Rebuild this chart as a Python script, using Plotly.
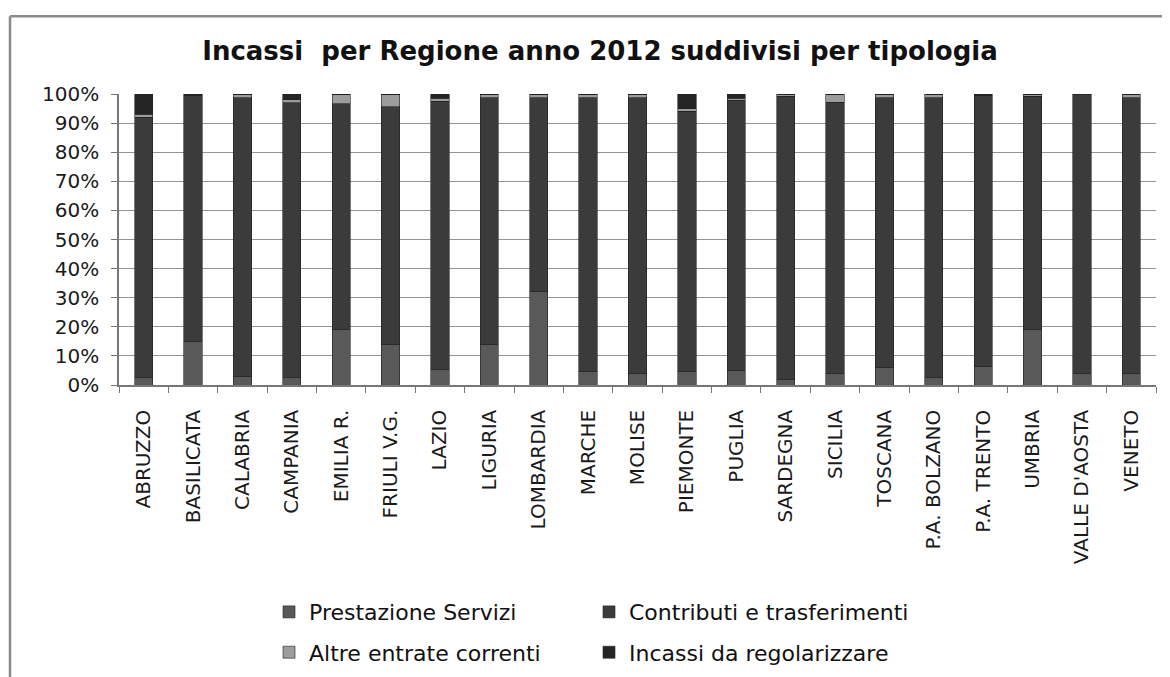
import plotly.graph_objects as go

regioni = ["ABRUZZO", "BASILICATA", "CALABRIA", "CAMPANIA", "EMILIA R.", "FRIULI V.G.",
           "LAZIO", "LIGURIA", "LOMBARDIA", "MARCHE", "MOLISE", "PIEMONTE", "PUGLIA",
           "SARDEGNA", "SICILIA", "TOSCANA", "P.A. BOLZANO", "P.A. TRENTO", "UMBRIA",
           "VALLE D'AOSTA", "VENETO"]

prestazione_servizi = [2.5, 15, 3, 2.5, 19, 14, 5.5, 14, 32, 4.5, 4, 4.5, 5, 2, 4, 6, 2.5, 6.5, 19, 4, 4]
contributi_trasferimenti = [89.5, 84.5, 95.7, 94.5, 77.7, 81.7, 92, 84.7, 66.7, 94.2, 94.7, 89.5, 92.8,
                            97.3, 93.2, 92.7, 96.2, 93, 80.3, 95.7, 94.7]
altre_entrate = [1, 0.3, 1, 1, 3, 4, 1, 1, 1, 1, 1, 1, 0.7, 0.5, 2.5, 1, 1, 0.3, 0.5, 0.2, 1]
incassi_regolarizzare = [7, 0.2, 0.3, 2, 0.3, 0.3, 1.5, 0.3, 0.3, 0.3, 0.3, 5, 1.5, 0.2, 0.3, 0.3,
                         0.3, 0.2, 0.2, 0.1, 0.3]

y_ticks = [0, 10, 20, 30, 40, 50, 60, 70, 80, 90, 100]
y_labels = [f"{v}%" for v in y_ticks]

series = [
    ("Prestazione Servizi", prestazione_servizi, "#595959", "legend"),
    ("Contributi e trasferimenti", contributi_trasferimenti, "#3b3b3b", "legend2"),
    ("Altre entrate correnti", altre_entrate, "#9c9c9c", "legend3"),
    ("Incassi da regolarizzare", incassi_regolarizzare, "#252525", "legend4"),
]

fig = go.Figure()
for name, vals, col, leg in series:
    fig.add_trace(go.Bar(
        x=regioni, y=vals, name=name, showlegend=True,
        marker=dict(color=col, line=dict(color="#222222", width=0.6)),
        legend=leg,
    ))

# the page body adds an 8px offset; figure coordinates below are page coordinates minus 8
W, H = 1170, 677
ml, mr, mt, mb = 111, 22, 86, 295
pw, ph = W - ml - mr, H - mt - mb

def px_x(px):
    return (px - ml) / pw

def px_y(py):
    return (H - mb - py) / ph

legend_font = dict(size=22, family="DejaVu Sans", color="#111111")

def legend_at(lx, ly):
    return dict(orientation="h", x=px_x(lx), xanchor="left", y=px_y(ly), yanchor="middle",
                font=legend_font, bgcolor="rgba(0,0,0,0)", visible=True)

fig.update_layout(
    width=W, height=H,
    margin=dict(l=ml, r=mr, t=mt, b=mb),
    paper_bgcolor="white", plot_bgcolor="white",
    barmode="stack", bargap=0.63,
    showlegend=True,
    font=dict(family="DejaVu Sans", color="#1a1a1a"),
    title=dict(text="<b>Incassi  per Regione anno 2012 suddivisi per tipologia</b>",
               x=592 / W, xanchor="center", y=1 - 43 / H, yanchor="middle",
               font=dict(size=26, family="DejaVu Sans", color="#111111")),
    xaxis=dict(
        type="category", tickangle=-90, tickson="boundaries",
        ticks="outside", ticklen=6, tickcolor="#777777",
        showline=True, linecolor="#777777", linewidth=1.5,
        showgrid=False, ticklabelstandoff=15,
        tickfont=dict(size=20, family="DejaVu Sans", color="#1a1a1a"),
    ),
    yaxis=dict(
        range=[0, 100], tickvals=y_ticks, ticktext=y_labels,
        ticks="outside", ticklen=6, tickcolor="#777777",
        showline=True, linecolor="#777777", linewidth=1.5,
        showgrid=True, gridcolor="#959595", gridwidth=1,
        ticklabelstandoff=8,
        tickfont=dict(size=20, family="DejaVu Sans", color="#1a1a1a"),
    ),
    legend=legend_at(261, 613),
    legend2=legend_at(581, 613),
    legend3=legend_at(261, 654),
    legend4=legend_at(581, 654),
    shapes=[
        dict(type="line", xref="paper", yref="paper",
             x0=px_x(2), x1=px_x(1172), y0=px_y(7), y1=px_y(7),
             line=dict(color="#8a8a8a", width=2.5)),
        dict(type="line", xref="paper", yref="paper",
             x0=px_x(2), x1=px_x(2), y0=px_y(7), y1=px_y(680),
             line=dict(color="#8a8a8a", width=2.5)),
    ],
)

fig.write_html("out.html")
